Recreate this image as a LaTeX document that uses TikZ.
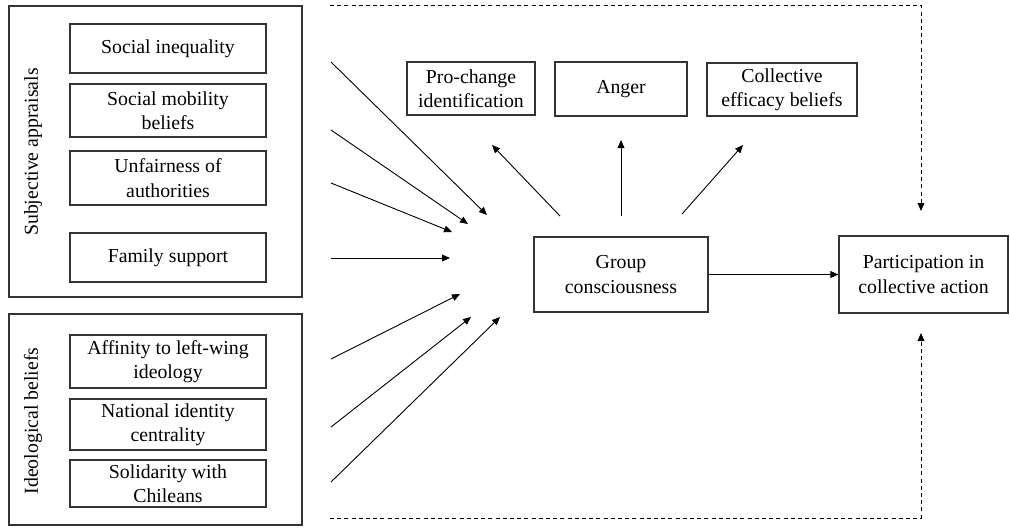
\documentclass[tikz,border=0pt]{standalone}
\usepackage{fontspec}
\setmainfont{Liberation Serif}
\usepackage{tikz}
\usetikzlibrary{arrows.meta}
\tikzstyle{group}=[draw=black!80, line width=0.6pt, inner sep=0pt]
\tikzstyle{var}=[draw=black!80, line width=0.6pt, align=center, inner sep=0pt, font=\fontsize{9.9}{12.2}\selectfont]
\tikzstyle{grouplabel}=[rotate=90, font=\fontsize{9.9}{12.2}\selectfont]
\tikzstyle{arr}=[-{Triangle[length=4pt,width=3.4pt]}, line width=0.45pt]
\tikzstyle{dasharr}=[arr, dash pattern=on 2pt off 1.6pt]

\begin{document}
\begin{tikzpicture}[x=0.5pt,y=-0.5pt]
		\useasboundingbox (0,0) rectangle (1010,527);
		% predictor groups
		\node[group, minimum width=146.5pt, minimum height=145.5pt] (subj) at (155.5,151.5) {};
		\node[group, minimum width=146.5pt, minimum height=105.5pt] (ideo) at (155.5,419.5) {};
		\node[grouplabel] (subjlab) at (33,152) {Subjective appraisals};
		\node[grouplabel] (ideolab) at (33,421) {Ideological beliefs};
		\node[var, minimum width=98pt, minimum height=24.5pt] (ineq) at (168,48.5) {Social inequality};
		\node[var, minimum width=98pt, minimum height=26.5pt] (mob) at (168,110.5) {Social mobility\\beliefs};
		\node[var, minimum width=98pt, minimum height=27pt] (unf) at (168,178) {Unfairness of\\authorities};
		\node[var, minimum width=98pt, minimum height=24.5pt] (fam) at (168,257.5) {Family support};
		\node[var, minimum width=98pt, minimum height=26.5pt] (aff) at (168,361.5) {Affinity to left-wing\\ideology};
		\node[var, minimum width=98pt, minimum height=25.5pt] (nat) at (168,424.5) {National identity\\centrality};
		\node[var, minimum width=98pt, minimum height=23.5pt] (sol) at (168,483.5) {Solidarity with\\Chileans};
		% mediators and outcome
		\node[var, minimum width=64pt, minimum height=26.5pt] (pro) at (471,88.5) {Pro-change\\identification};
		\node[var, minimum width=66pt, minimum height=27pt] (anger) at (621,89) {Anger};
		\node[var, minimum width=75pt, minimum height=26.5pt] (eff) at (782,89.5) {Collective\\efficacy beliefs};
		\node[var, minimum width=87pt, minimum height=37.5pt] (gc) at (621,274.5) {Group\\consciousness};
		\node[var, minimum width=84.5pt, minimum height=38.5pt] (part) at (923.5,274.5) {Participation in\\collective action};
		% free ends of the arrows
		\coordinate (s1) at (331,62);   \coordinate (e1) at (487,215);
		\coordinate (s2) at (331,130);  \coordinate (e2) at (468,224);
		\coordinate (s3) at (331,183);  \coordinate (e3) at (452,232);
		\coordinate (s4) at (331,258);  \coordinate (e4) at (450,258);
		\coordinate (s5) at (331,359);  \coordinate (e5) at (460,294);
		\coordinate (s6) at (331,427);  \coordinate (e6) at (471,317);
		\coordinate (s7) at (331,482);  \coordinate (e7) at (500,317);
		\foreach \i in {1,...,7}
			\draw[arr] (s\i) -- (e\i);
		\coordinate (gcpro) at (560,216);   \coordinate (toPro) at (492,145);
		\coordinate (gcang) at (621,216);   \coordinate (toAng) at (621,140);
		\coordinate (gceff) at (682,214);   \coordinate (toEff) at (743,145);
		\draw[arr] (gcpro) -- (toPro);
		\draw[arr] (gcang) -- (toAng);
		\draw[arr] (gceff) -- (toEff);
		\draw[arr] (gc.east) -- (part.west);
		% direct paths
		\coordinate (topstart) at (330,5);   \coordinate (topend) at (921,211);
		\coordinate (botstart) at (330,518); \coordinate (botend) at (921,333);
		\draw[dasharr] (topstart) -| (topend);
		\draw[dasharr] (botstart) -| (botend);
	\end{tikzpicture}
\end{document}
